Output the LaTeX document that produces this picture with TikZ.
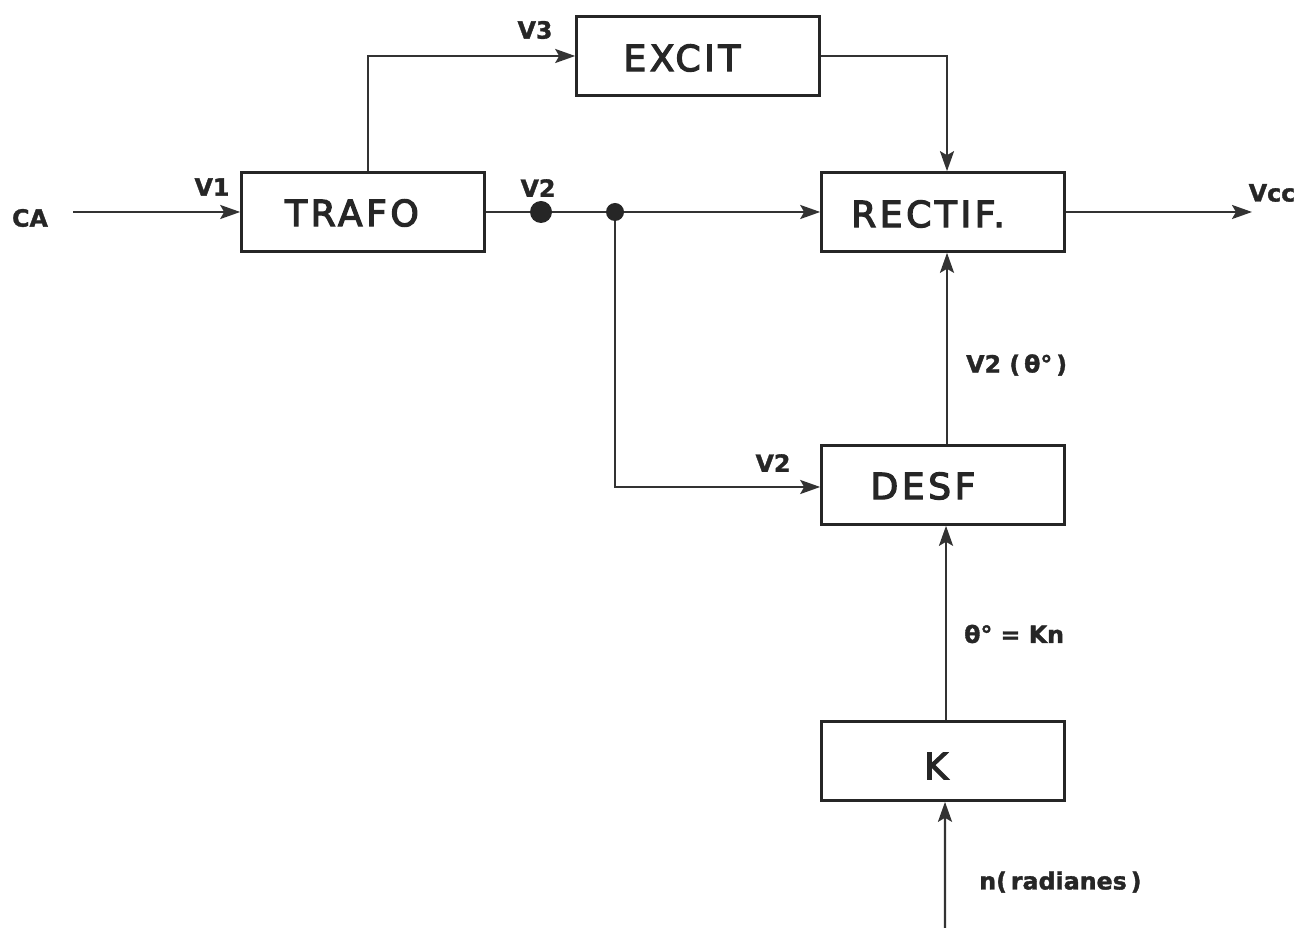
\documentclass[tikz,border=0pt]{standalone}
\usepackage{fontspec}
\setmainfont{Liberation Sans}
\newfontfamily\lblfont[FakeBold=1.5]{DejaVu Sans}
\newfontfamily\boxfont[LetterSpace=10,FakeBold=3.5]{DejaVu Sans}
\usetikzlibrary{arrows.meta}
\begin{document}
\begin{tikzpicture}[x=0.02cm,y=-0.02cm,
  blk/.style={draw=black!85, line width=1.5pt, minimum width=4.86cm, minimum height=1.58cm, inner sep=0pt},
  blktext/.style={font=\boxfont\fontsize{20.5}{24}\selectfont, text=black!85},
  lbl/.style={font=\lblfont\bfseries\fontsize{13.5}{16}\selectfont, text=black!85},
  wire/.style={line width=1.4pt, draw=black!80},
  conn/.style={wire, -{Stealth[length=0.4cm,width=0.28cm,inset=0.08cm]}},
  dot/.style={circle, fill=black!85, inner sep=0pt}]
\useasboundingbox (0,0) rectangle (1298,928);
% blocks
\node[blk] (trafo) at (363,212) {};
\node[blk] (excit) at (698,56) {};
\node[blk] (rectif) at (943,212) {};
\node[blk] (desf) at (943,485) {};
\node[blk] (k) at (943,761) {};
\node[blktext] (ttrafo) at (352,213) {TRAFO};
\node[blktext] (texcit) at (682,58) {EXCIT};
\node[blktext] (trectif) at (928,214) {RECTIF.};
\node[blktext] (tdesf) at (923,486) {DESF};
\node[blktext] (tk) at (936,766) {K};
% junction dots
\node[dot, minimum size=0.44cm] (d1) at (541,212) {};
\node[dot, minimum size=0.36cm] (d2) at (615,212) {};
% free ends
\coordinate (cain) at (73,212);
\coordinate (vccout) at (1252,212);
\coordinate (nin) at (945,928);
% labels
\node[lbl] (lca) at (30,218) {CA};
\node[lbl] (lv1) at (212,187) {V1};
\node[lbl] (lv2a) at (538,188) {V2};
\node[lbl] (lv3) at (535,30) {V3};
\node[lbl] (lvcc) at (1272,193) {Vcc};
\node[lbl] (lv2b) at (773,463) {V2};
\node[lbl, anchor=west] (lv2t) at (960,365) {V2 (\,θ°\,)};
\node[lbl, anchor=west] (lth) at (958,634) {θ° = Kn};
\node[lbl, anchor=west] (lrad) at (973,882) {n(\,radianes\,)};
% connectors
\draw[conn] (cain) -- (trafo.west);
\draw[wire] (trafo.east) -- (d1) -- (d2);
\draw[conn] (d2) -- (rectif.west);
\draw[conn] ([xshift=0.1cm]trafo.north) |- (excit.west);
\draw[conn] (excit.east) -| ([xshift=0.08cm]rectif.north);
\draw[conn] (d2) |- ([yshift=-0.04cm]desf.west);
\draw[conn] ([xshift=0.08cm]desf.north) -- ([xshift=0.08cm]rectif.south);
\draw[conn] ([xshift=0.06cm]k.north) -- ([xshift=0.06cm]desf.south);
\draw[conn] (nin) -- ([xshift=0.04cm]k.south);
\draw[conn] (rectif.east) -- (vccout);
\end{tikzpicture}
\end{document}
